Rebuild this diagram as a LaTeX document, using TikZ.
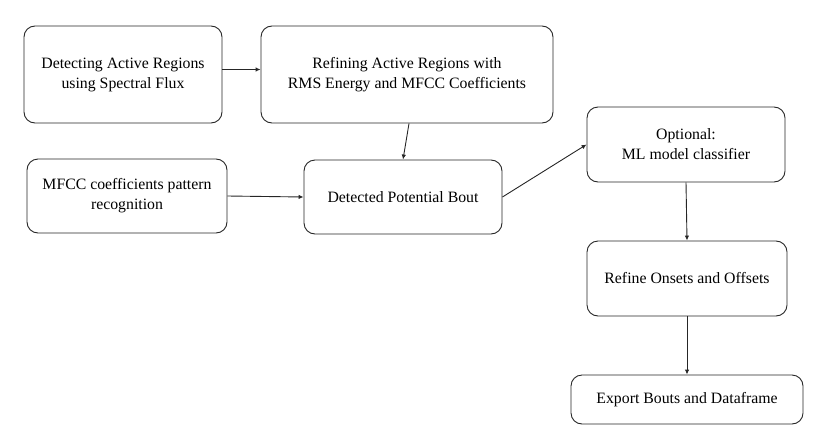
\documentclass[tikz,border=0pt]{standalone}
\usepackage{fontspec}
\setmainfont{Liberation Serif}
\usetikzlibrary{arrows.meta}
\tikzset{
	stage/.style={draw=black!85, line width=0.9pt, rounded corners=11pt, align=center,
		font=\fontsize{15.8pt}{20pt}\selectfont, inner sep=0pt},
	flow/.style={draw=black!85, line width=0.9pt, -{Latex[length=5pt,width=4.5pt]}}
}

\begin{document}
\begin{tikzpicture}[x=1pt, y=-1pt]
		%%%%% START %%%%%
		\useasboundingbox (0, 0) rectangle (821, 447);
		
		\node[stage, minimum width=198pt, minimum height=97pt] (spectral) at (123, 74.5) {Detecting Active Regions\\using Spectral Flux};
		\node[stage, minimum width=292pt, minimum height=97pt] (refine) at (407, 74.5) {Refining Active Regions with\\RMS Energy and MFCC Coefficients};
		
		\node[stage, minimum width=200pt, minimum height=74pt] (pattern) at (127, 196) {MFCC coefficients pattern\\recognition};
		\node[stage, minimum width=198pt, minimum height=74pt] (bout) at (403, 197) {Detected Potential Bout};
		
		\node[stage, minimum width=198pt, minimum height=75pt] (classifier) at (686, 144.5) {Optional:\\ML model classifier};
		\node[stage, minimum width=200pt, minimum height=75pt] (onsets) at (687, 278.5) {Refine Onsets and Offsets};
		\node[stage, minimum width=232pt, minimum height=49pt] (export) at (687, 399.5) {Export Bouts and Dataframe};
		
		\draw[flow] ([yshift=5pt]spectral.east) -- ([yshift=5pt]refine.west);
		\draw[flow] ([xshift=2pt]refine.south) -- (bout.north);
		\draw[flow] (pattern.east) -- (bout.west);
		\draw[flow] (bout.east) -- (classifier.west);
		\draw[flow] (classifier.south) -- (onsets.north);
		\draw[flow] (onsets.south) -- (export.north);
		%%%%% END %%%%%
	\end{tikzpicture}
\end{document}
